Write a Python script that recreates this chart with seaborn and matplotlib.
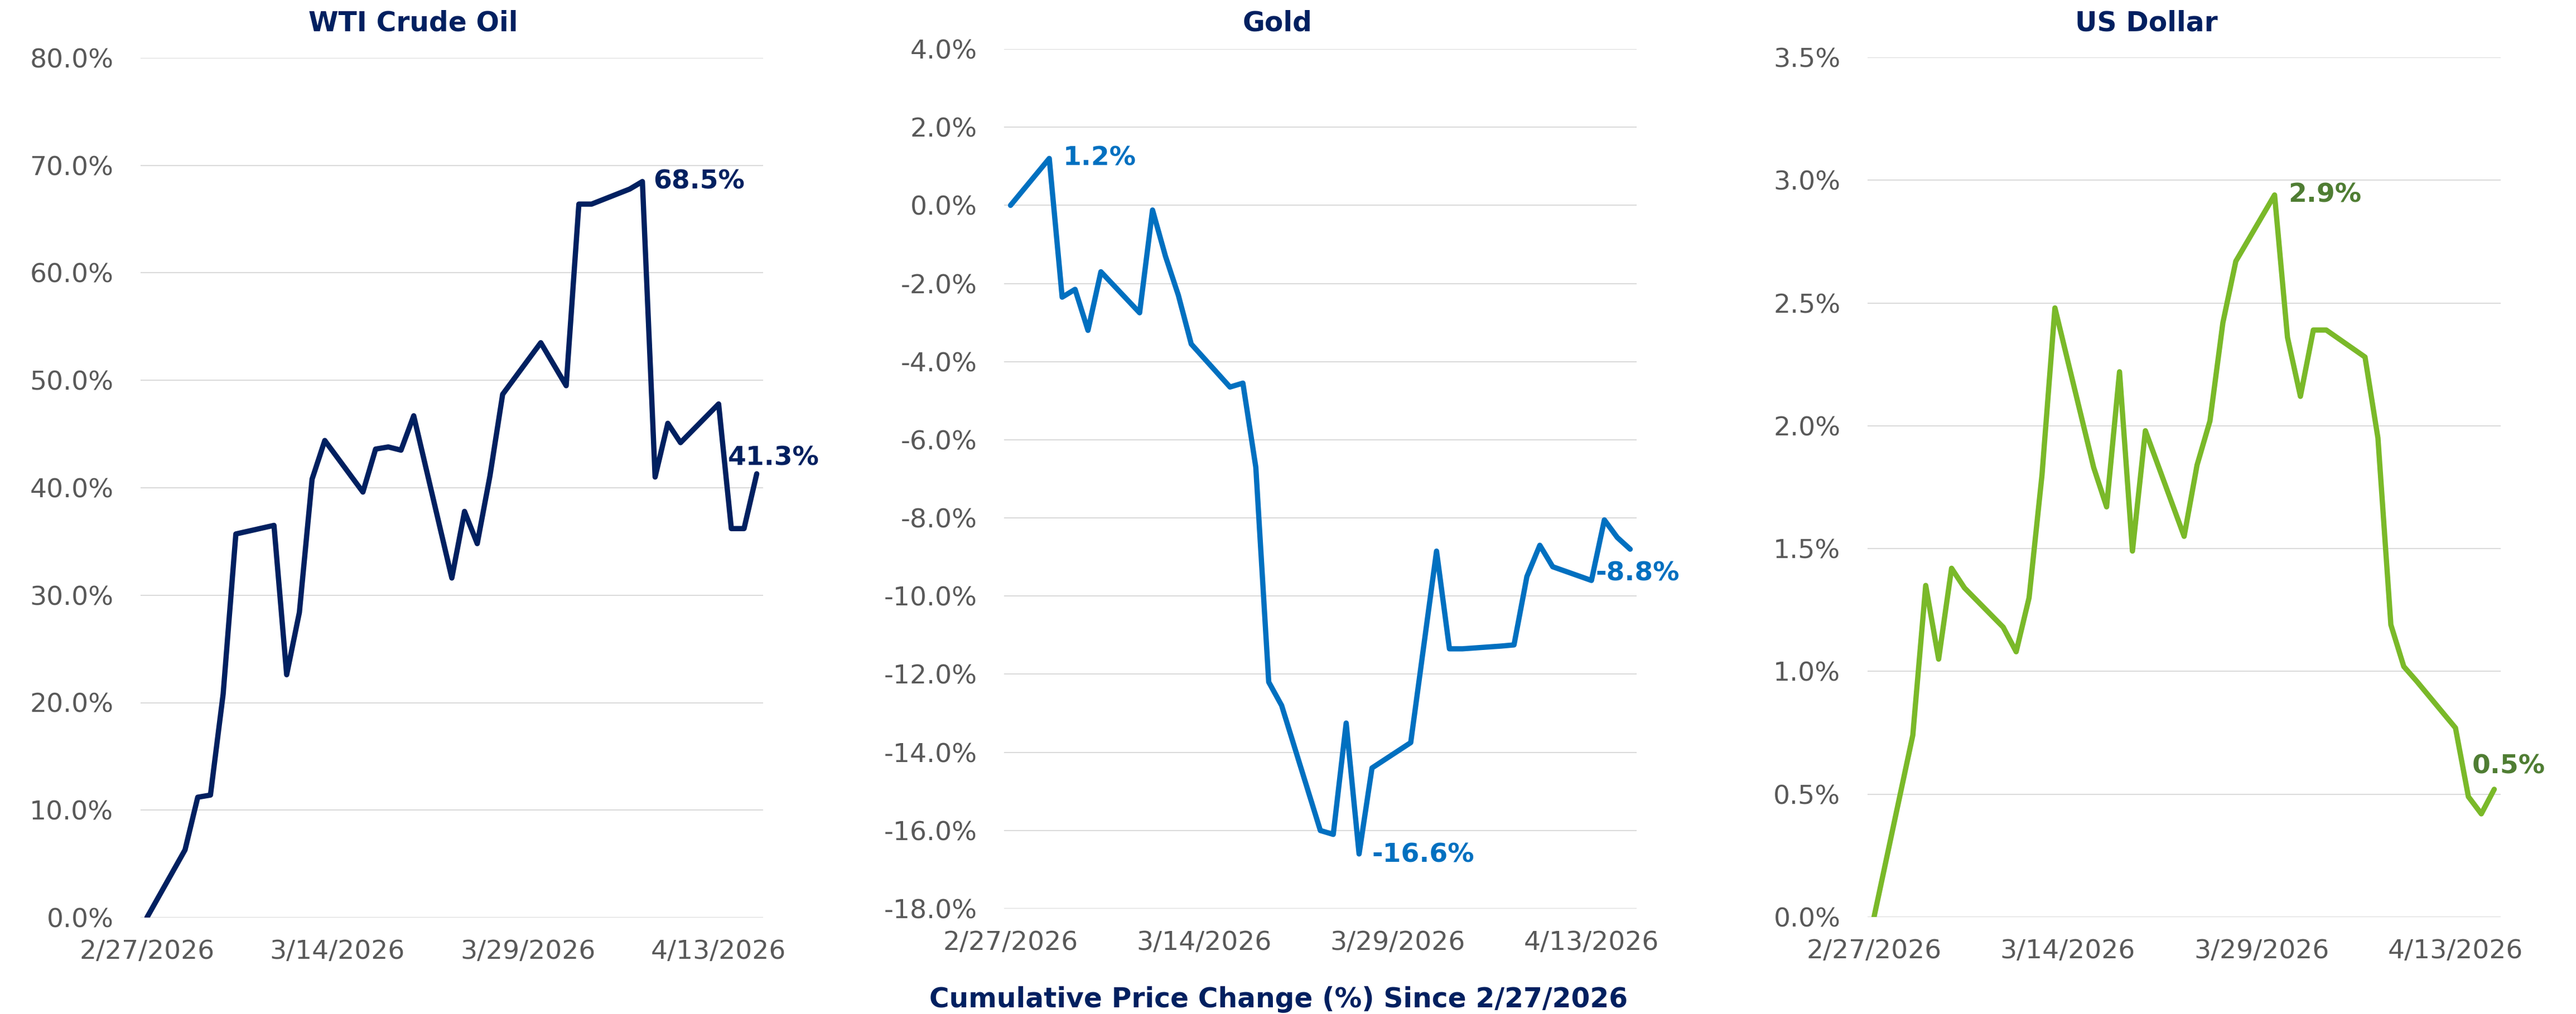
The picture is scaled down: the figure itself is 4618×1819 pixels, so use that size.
import matplotlib
matplotlib.use("Agg")
import matplotlib.pyplot as plt
import seaborn as sns
import numpy as np
import pandas as pd

# trading days since 2/27/2026 (3/31 missing for oil and gold)
dates = ["2026-02-27", "2026-03-02", "2026-03-03", "2026-03-04", "2026-03-05", "2026-03-06",
         "2026-03-09", "2026-03-10", "2026-03-11", "2026-03-12", "2026-03-13",
         "2026-03-16", "2026-03-17", "2026-03-18", "2026-03-19", "2026-03-20",
         "2026-03-23", "2026-03-24", "2026-03-25", "2026-03-26", "2026-03-27",
         "2026-03-30", "2026-03-31", "2026-04-01", "2026-04-02", "2026-04-03",
         "2026-04-06", "2026-04-07", "2026-04-08", "2026-04-09", "2026-04-10",
         "2026-04-13", "2026-04-14", "2026-04-15", "2026-04-16"]

wti = [0.0, 6.3, 11.2, 11.4, 20.8, 35.7,
       36.5, 22.6, 28.4, 40.8, 44.4,
       39.6, 43.6, 43.8, 43.5, 46.7,
       31.6, 37.8, 34.8, 41.1, 48.7,
       53.5, np.nan, 49.5, 66.4, 66.4,
       67.8, 68.5, 41.0, 46.0, 44.2,
       47.8, 36.2, 36.2, 41.3]

gold = [0.0, 1.2, -2.35, -2.15, -3.2, -1.7,
        -2.75, -0.12, -1.3, -2.3, -3.55,
        -4.65, -4.55, -6.7, -12.2, -12.8,
        -16.0, -16.1, -13.25, -16.6, -14.4,
        -13.75, np.nan, -8.85, -11.35, -11.35,
        -11.28, -11.25, -9.5, -8.7, -9.25,
        -9.6, -8.05, -8.5, -8.8]

usd = [0.0, 0.74, 1.35, 1.05, 1.42, 1.34,
       1.18, 1.08, 1.30, 1.80, 2.48,
       1.83, 1.67, 2.22, 1.49, 1.98,
       1.55, 1.84, 2.02, 2.42, 2.67,
       2.94, 2.36, 2.12, 2.39, 2.39,
       2.28, 1.95, 1.19, 1.02, 0.96,
       0.77, 0.49, 0.42, 0.52]

tick_dates = ["2026-02-27", "2026-03-14", "2026-03-29", "2026-04-13"]
tick_labels = ["2/27/2026", "3/14/2026", "3/29/2026", "4/13/2026"]

titles = ["WTI Crude Oil", "Gold", "US Dollar"]
series = [wti, gold, usd]
line_colors = ["#002060", "#0070C0", "#7AB929"]
label_colors = ["#002060", "#0070C0", "#4F7D33"]
y_ticks = [np.arange(0, 81, 10), np.arange(-18, 5, 2), np.arange(0, 3.51, 0.5)]

# (date, value, text, dx, dy, ha) for the callouts
callouts = [
    [("2026-04-07", 68.5, "68.5%", 19, 0, "left"), ("2026-04-16", 41.3, "41.3%", 30, 28, "center")],
    [("2026-03-02", 1.2, "1.2%", 25, 0, "left"), ("2026-03-26", -16.6, "-16.6%", 23, -2, "left"),
     ("2026-04-16", -8.8, "-8.8%", 13, -44, "center")],
    [("2026-03-30", 2.94, "2.9%", 25, 0, "left"), ("2026-04-16", 0.52, "0.5%", 26, 41, "center")],
]

sns.set_theme(style="white")
plt.rcParams["font.family"] = ["DejaVu Sans"]

W, H = 4618, 1819
fig = plt.figure(figsize=(W / 100, H / 100), dpi=100)

# pixel boxes of the plot areas: left, top, right, bottom
boxes = [(252, 104, 1368, 1646), (1800, 88, 2934, 1630), (3348, 103, 4483, 1645)]
title_x = [741, 2290, 3848]

x_dates = pd.to_datetime(dates)
half = pd.Timedelta(hours=12)

for i in range(3):
    l, t, r, b = boxes[i]
    ax = fig.add_axes([l / W, (H - b) / H, (r - l) / W, (b - t) / H])
    df = pd.DataFrame({"date": x_dates, "value": series[i]}).dropna()
    sns.lineplot(data=df, x="date", y="value", ax=ax, color=line_colors[i], linewidth=6.8,
                 solid_joinstyle="round", solid_capstyle="round", zorder=3)
    yt = y_ticks[i]
    ax.set_ylim(yt[0], yt[-1])
    ax.set_yticks(yt)
    ax.set_yticklabels([f"{v:.1f}%" for v in yt])
    ax.set_xlim(x_dates[0] - half, x_dates[-1] + half)
    ax.set_xticks(pd.to_datetime(tick_dates))
    ax.set_xticklabels(tick_labels)
    ax.set_xlabel("")
    ax.set_ylabel("")
    ax.grid(axis="y", color="#D9D9D9", linewidth=1.4)
    ax.grid(axis="x", visible=False)
    ax.set_axisbelow(True)
    sns.despine(ax=ax, left=True, bottom=True)
    ax.tick_params(axis="y", length=0, pad=35, labelsize=34, labelcolor="#595959")
    ax.tick_params(axis="x", length=0, pad=28, labelsize=34, labelcolor="#595959")
    for d, v, txt, dx, dy, ha in callouts[i]:
        ax.annotate(txt, xy=(pd.Timestamp(d), v), xytext=(dx, dy), textcoords="offset pixels",
                    ha=ha, va="center", fontsize=34, fontweight="bold", color=label_colors[i])
    fig.text(title_x[i] / W, 1 - 42 / H, titles[i], ha="center", va="center",
             fontsize=35, fontweight="bold", color="#002060")

fig.text(2292 / W, 1 - 1793 / H, "Cumulative Price Change (%) Since 2/27/2026", ha="center",
         va="center", fontsize=35, fontweight="bold", color="#002060")

fig.savefig("out.png", dpi=100, facecolor="white")
